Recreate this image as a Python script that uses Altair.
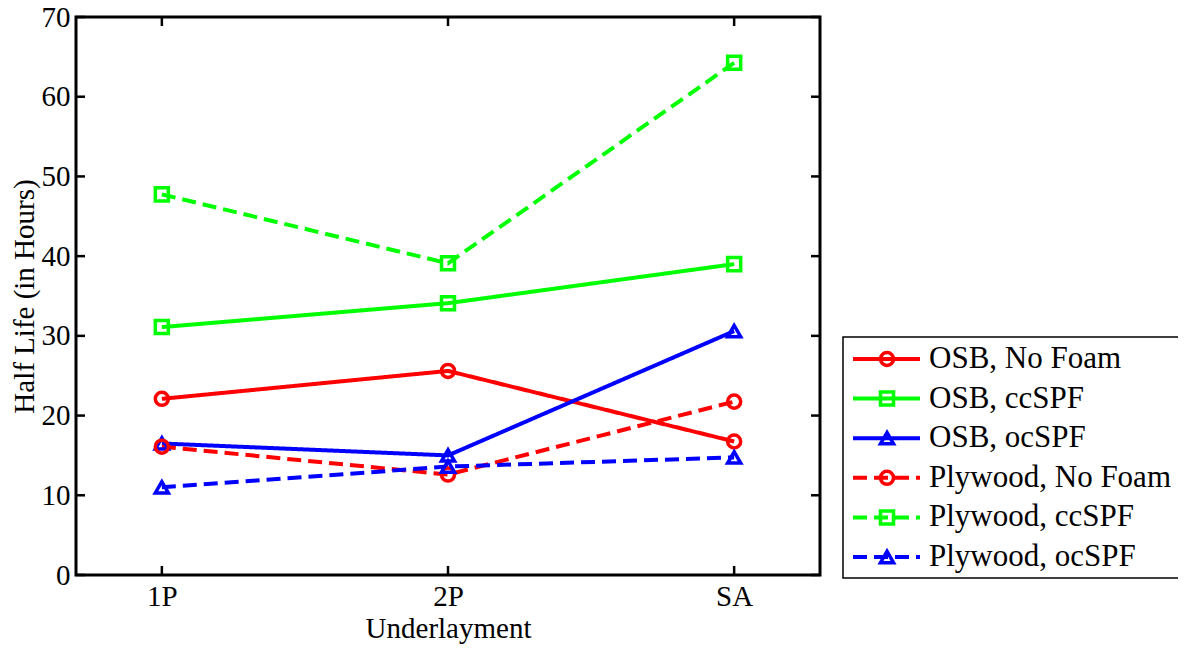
import altair as alt
import pandas as pd

categories = ["1P", "2P", "SA"]
series = ["OSB, No Foam", "OSB, ccSPF", "OSB, ocSPF",
          "Plywood, No Foam", "Plywood, ccSPF", "Plywood, ocSPF"]
osb_nofoam = [22.1, 25.6, 16.75]
osb_ccspf = [31.1, 34.1, 39.0]
osb_ocspf = [16.5, 15.0, 30.6]
ply_nofoam = [16.1, 12.6, 21.75]
ply_ccspf = [47.75, 39.1, 64.25]
ply_ocspf = [11.0, 13.6, 14.75]
values = [osb_nofoam, osb_ccspf, osb_ocspf, ply_nofoam, ply_ccspf, ply_ocspf]
colors = ["#ff0000", "#00ff00", "#0000ff", "#ff0000", "#00ff00", "#0000ff"]
shapes = ["circle", "square", "triangle-up", "circle", "square", "triangle-up"]
sizes = [170, 170, 320, 170, 170, 320]
dashes = ["solid", "solid", "solid", "dashed", "dashed", "dashed"]
y_ticks = [0, 10, 20, 30, 40, 50, 60, 70]

rows = []
for s, vals, d in zip(series, values, dashes):
    for c, v in zip(categories, vals):
        rows.append({"series": s, "cat": c, "value": v, "dash": d})
df = pd.DataFrame(rows)
leg = pd.DataFrame({"series": series, "dash": dashes})
ticks_df = pd.DataFrame({"value": y_ticks})
cat_df = pd.DataFrame({"cat": categories})
box_df = pd.DataFrame({"k": [0]})

W, H = 744, 558
FONT = "Liberation Serif"
FS = 29

color = alt.Color("series:N", scale=alt.Scale(domain=series, range=colors), legend=None)
shape = alt.Shape("series:N", scale=alt.Scale(domain=series, range=shapes), legend=None)
size = alt.Size("series:N", scale=alt.Scale(domain=series, range=sizes), legend=None)
dash = alt.StrokeDash("dash:N", scale=alt.Scale(domain=["solid", "dashed"], range=[[1, 0], [14, 7]]), legend=None)

xs = alt.Scale(type="point", domain=categories, padding=0.3)
ys = alt.Scale(domain=[0, 70], nice=False)

x_axis = alt.Axis(title="Underlayment", labelAngle=0, ticks=False, domain=False, grid=False,
                  labelPadding=7, titlePadding=3)
y_axis = alt.Axis(title="Half Life (in Hours)", values=y_ticks, ticks=False, domain=False,
                  grid=False, labelPadding=6, titlePadding=2)
X = alt.X("cat:N", scale=xs, sort=categories, axis=x_axis)
Y = alt.Y("value:Q", scale=ys, axis=y_axis)

lines = alt.Chart(df).mark_line(strokeWidth=4).encode(x=X, y=Y, color=color, strokeDash=dash, detail="series:N")
points = alt.Chart(df).mark_point(filled=False, strokeWidth=3.5, opacity=1).encode(
    x=X, y=Y, color=color, shape=shape, size=size)

tl = alt.Chart(ticks_df).mark_rule(color="black", strokeWidth=2.5).encode(
    y=Y, x=alt.value(0), x2=alt.value(9))
tr = alt.Chart(ticks_df).mark_rule(color="black", strokeWidth=2.5).encode(
    y=Y, x=alt.value(W - 9), x2=alt.value(W))
tb = alt.Chart(cat_df).mark_rule(color="black", strokeWidth=2.5).encode(
    x=X, y=alt.value(H - 9), y2=alt.value(H))
tt = alt.Chart(cat_df).mark_rule(color="black", strokeWidth=2.5).encode(
    x=X, y=alt.value(0), y2=alt.value(9))

main = alt.layer(lines, points, tl, tr, tb, tt)

LY = alt.Y("series:N", scale=alt.Scale(type="point", domain=series, range=[342, 540], padding=0), axis=None)
box = alt.Chart(box_df).mark_rect(filled=False, stroke="black", strokeWidth=1.5).encode(
    x=alt.value(767), x2=alt.value(1109), y=alt.value(320), y2=alt.value(561))
leg_lines = alt.Chart(leg).mark_rule(strokeWidth=4).encode(
    y=LY, x=alt.value(777), x2=alt.value(844), color=color, strokeDash=dash)
leg_pts = alt.Chart(leg).mark_point(filled=False, strokeWidth=3.5, opacity=1).encode(
    y=LY, x=alt.value(811), color=color, shape=shape, size=size)
leg_text = alt.Chart(leg).mark_text(align="left", baseline="middle", font=FONT, fontSize=31, color="black").encode(
    y=LY, x=alt.value(853), text="series:N")
legend = alt.layer(box, leg_lines, leg_pts, leg_text)

chart = alt.layer(main, legend).resolve_scale(y="independent").properties(
    width=W, height=H,
    autosize=alt.AutoSizeParams(type="none"),
    padding={"left": 68, "top": 9, "right": 358, "bottom": 74},
).configure(background="white").configure_view(stroke="black", strokeWidth=3).configure_axis(
    labelFont=FONT, titleFont=FONT, labelFontSize=FS, titleFontSize=FS,
    labelColor="black", titleColor="black", titleFontWeight="normal",
)

chart.save("out.html", embed_options={"renderer": "svg", "actions": False})
